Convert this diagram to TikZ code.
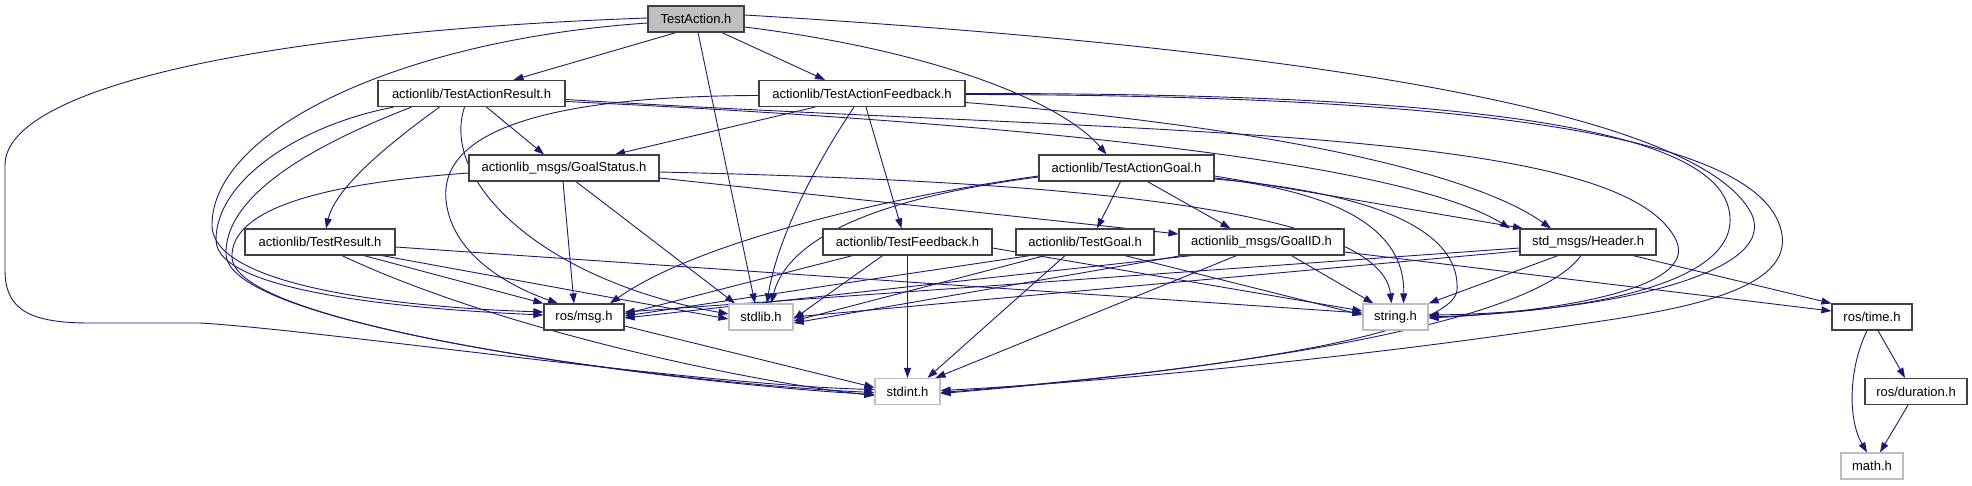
\documentclass[tikz,border=0pt]{standalone}
\usepackage{fontspec}
\setmainfont{Liberation Sans}
\usepackage{xcolor}
\usepackage{tikz}
\usetikzlibrary{arrows.meta,backgrounds}

\definecolor{edgeblue}{HTML}{191970}
\definecolor{nodegray}{HTML}{BFBFBF}

\begin{document}
\begin{tikzpicture}[
  x=1pt, y=-1pt, >={Triangle[length=10pt,width=7pt]},
  filebox/.style={draw=black!75, line width=1.2pt, fill=white, minimum height=26pt, inner sep=0pt, font=\fontsize{13}{15}\selectfont},
  sysbox/.style={filebox, draw=nodegray},
  rootbox/.style={filebox, fill=nodegray},
  incl/.style={->, edgeblue, line width=0.9pt}
]
\useasboundingbox (0,0) rectangle (1972,485);

% files of the package
\node[rootbox, minimum width=96pt] (act) at (696,19) {TestAction.h};
\node[filebox, minimum width=187pt] (res) at (471.5,93.5) {actionlib/TestActionResult.h};
\node[filebox, minimum width=206pt] (fb) at (862,93.5) {actionlib/TestActionFeedback.h};
\node[filebox, minimum width=190pt] (gs) at (564,168) {actionlib\_msgs/GoalStatus.h};
\node[filebox, minimum width=175pt] (goal) at (1126.5,168) {actionlib/TestActionGoal.h};
\node[filebox, minimum width=150pt] (tres) at (320,242) {actionlib/TestResult.h};
\node[filebox, minimum width=169pt] (tfb) at (907.5,242) {actionlib/TestFeedback.h};
\node[filebox, minimum width=138pt] (tgoal) at (1085,242) {actionlib/TestGoal.h};
\node[filebox, minimum width=165pt] (gid) at (1261.5,242) {actionlib\_msgs/GoalID.h};
\node[filebox, minimum width=136pt] (hdr) at (1588,242) {std\_msgs/Header.h};
\node[filebox, minimum width=80pt] (msg) at (584,317) {ros/msg.h};
\node[filebox, minimum width=80pt] (time) at (1872,317) {ros/time.h};
\node[filebox, minimum width=102pt] (dur) at (1916,391.5) {ros/duration.h};

% system headers
\node[sysbox, minimum width=64pt] (stdlib) at (761,317) {stdlib.h};
\node[sysbox, minimum width=65pt] (string) at (1395.5,317) {string.h};
\node[sysbox, minimum width=65pt] (stdint) at (907.5,391.5) {stdint.h};
\node[sysbox, minimum width=62pt] (math) at (1872,466) {math.h};

\begin{scope}[on background layer]
% TestAction.h
\draw[incl] ([xshift=-20pt]act.south) -- ([xshift=42pt]res.north);
\draw[incl] ([xshift=26pt]act.south) -- ([xshift=-37pt]fb.north);
\draw[incl] ([xshift=2pt]act.south) -- ([xshift=-6pt]stdlib.north);
\draw[incl] ([yshift=-8pt]act.east) .. controls (930,50) and (1060,100) .. ([xshift=-20pt]goal.north);
\draw[incl] ([yshift=-4pt]act.west) .. controls (400,40) and (212,130) .. (212,225) .. controls (212,290) and (420,308) .. ([yshift=5pt]msg.west);
\draw[incl] ([yshift=1pt]act.west) .. controls (250,32) and (5,90) .. (5,165) -- (5,270) .. controls (5,310) and (30,323) .. (90,323) -- (200,323) .. controls (320,330) and (700,385) .. ([yshift=2pt]stdint.west);
\draw[incl] ([yshift=4pt]act.east) .. controls (1250,45) and (1700,105) .. (1752,215) .. controls (1778,275) and (1600,313) .. ([yshift=2pt]string.east);

% actionlib/TestActionResult.h
\draw[incl] ([xshift=15pt]res.south) -- ([xshift=-20pt]gs.north);
\draw[incl] ([xshift=-32pt]res.south) .. controls (380,150) and (335,190) .. ([xshift=6pt]tres.north);
\draw[incl] ([xshift=-78pt]res.south) .. controls (300,125) and (216,180) .. (216,240) .. controls (216,295) and (430,310) .. ([yshift=2pt]msg.west);
\draw[incl] ([xshift=-60pt]res.south) .. controls (300,150) and (224,200) .. (226,255) .. controls (232,330) and (700,385) .. ([yshift=-1pt]stdint.west);
\draw[incl] ([xshift=-7pt]res.south) .. controls (440,180) and (540,280) .. ([yshift=3pt]stdlib.west);
\draw[incl] ([yshift=-8pt]res.east) .. controls (1000,122) and (1400,160) .. ([xshift=-78pt]hdr.north);
\draw[incl] ([yshift=-6pt]res.east) .. controls (1150,135) and (1620,125) .. (1676,240) .. controls (1700,290) and (1550,312) .. ([yshift=-1pt]string.east);

% actionlib/TestActionFeedback.h
\draw[incl] ([xshift=-47pt]fb.south) -- ([xshift=51pt]gs.north);
\draw[incl] ([xshift=4pt]fb.south) -- ([xshift=-6pt]tfb.north);
\draw[incl] ([yshift=-2pt]fb.west) .. controls (520,96) and (440,140) .. (446,200) .. controls (452,260) and (520,290) .. ([xshift=-26pt]msg.north);
\draw[incl] ([xshift=-8pt]fb.south) .. controls (805,180) and (775,250) .. ([xshift=6pt]stdlib.north);
\draw[incl] ([yshift=-9pt]fb.east) .. controls (1250,125) and (1470,170) .. ([xshift=-37pt]hdr.north);
\draw[incl] (fb.east) .. controls (1450,93) and (1712,125) .. (1729,210) .. controls (1745,285) and (1580,312) .. (string.east);
\draw[incl] ([yshift=-1pt]fb.east) .. controls (1500,95) and (1768,140) .. (1782,235) .. controls (1792,300) and (1640,315) .. (1540,330) .. controls (1300,365) and (1050,385) .. ([yshift=1pt]stdint.east);

% actionlib_msgs/GoalStatus.h
\draw[incl] ([yshift=-10pt]gs.east) -- ([yshift=8pt]gid.west);
\draw[incl] ([xshift=-1pt]gs.south) -- ([xshift=-10pt]msg.north);
\draw[incl] ([xshift=12pt]gs.south) -- ([xshift=-26pt]stdlib.north);
\draw[incl] ([yshift=-4pt]gs.east) .. controls (1000,180) and (1380,200) .. ([xshift=-4pt]string.north);
\draw[incl] ([yshift=-5pt]gs.west) .. controls (300,185) and (230,215) .. (232,258) .. controls (238,330) and (700,385) .. ([yshift=-3pt]stdint.west);

% actionlib/TestActionGoal.h
\draw[incl] ([xshift=-6pt]goal.south) -- ([xshift=12pt]tgoal.north);
\draw[incl] ([xshift=21pt]goal.south) -- ([xshift=-31pt]gid.north);
\draw[incl] ([yshift=-8pt]goal.east) -- ([xshift=-65pt]hdr.north);
\draw[incl] ([yshift=-10pt]goal.east) .. controls (1360,195) and (1405,240) .. ([xshift=8pt]string.north);
\draw[incl] ([yshift=-11pt]goal.east) .. controls (1400,195) and (1460,240) .. (1457,290) .. controls (1452,345) and (1100,380) .. ([yshift=-2pt]stdint.east);
\draw[incl] ([yshift=-8pt]goal.west) .. controls (900,195) and (700,240) .. ([xshift=26pt]msg.north);
\draw[incl] ([yshift=-9pt]goal.west) .. controls (900,195) and (790,230) .. ([xshift=10pt]stdlib.north);

% actionlib/TestResult.h
\draw[incl] ([xshift=44pt]tres.south) -- (msg.north west);
\draw[incl] ([xshift=62pt]tres.south) -- ([yshift=-2pt]stdlib.west);
\draw[incl] ([yshift=-5pt]tres.east) -- ([yshift=4pt]string.west);
\draw[incl] ([xshift=22pt]tres.south) .. controls (500,330) and (750,382) .. ([yshift=-4pt]stdint.west);

% actionlib/TestFeedback.h
\draw[incl] ([xshift=-55pt]tfb.south) -- ([yshift=3pt]msg.east);
\draw[incl] ([xshift=-25pt]tfb.south) -- ([yshift=-2pt]stdlib.east);
\draw[incl] ([yshift=-6pt]tfb.east) -- ([yshift=6pt]string.west);
\draw[incl] (tfb.south) -- (stdint.north);

% actionlib/TestGoal.h
\draw[incl] ([xshift=-55pt]tgoal.south) -- ([yshift=1pt]msg.east);
\draw[incl] ([xshift=-40pt]tgoal.south) -- ([yshift=-4pt]stdlib.east);
\draw[incl] ([xshift=40pt]tgoal.south) -- ([yshift=2pt]string.west);
\draw[incl] ([xshift=-20pt]tgoal.south) -- ([xshift=20pt]stdint.north);

% actionlib_msgs/GoalID.h
\draw[incl] ([xshift=-70pt]gid.south) -- ([yshift=-1pt]msg.east);
\draw[incl] ([xshift=-80pt]gid.south) -- ([yshift=-6pt]stdlib.east);
\draw[incl] ([xshift=30pt]gid.south) -- ([xshift=-22pt]string.north);
\draw[incl] ([xshift=-25pt]gid.south) -- ([xshift=28pt]stdint.north);
\draw[incl] ([yshift=-10pt]gid.east) -- ([yshift=6pt]time.west);

% std_msgs/Header.h
\draw[incl] ([xshift=45pt]hdr.south) -- (time.north west);
\draw[incl] ([yshift=-6pt]hdr.west) -- ([yshift=5pt]msg.east);
\draw[incl] ([yshift=-9pt]hdr.west) -- (stdlib.east);
\draw[incl] ([xshift=-30pt]hdr.south) -- (string.north east);
\draw[incl] ([xshift=-7pt]hdr.south) .. controls (1520,340) and (1100,380) .. ([yshift=-1pt]stdint.east);

% ros/msg.h, ros/time.h, ros/duration.h
\draw[incl] ([yshift=-9pt]msg.east) -- ([yshift=4pt]stdint.west);
\draw[incl] ([xshift=6pt]time.south) -- ([xshift=-11pt]dur.north);
\draw[incl] ([xshift=-5pt]time.south) .. controls (1848,370) and (1848,420) .. ([xshift=-5pt]math.north);
\draw[incl] ([xshift=-8pt]dur.south) -- ([xshift=8pt]math.north);
\end{scope}

\end{tikzpicture}
\end{document}
